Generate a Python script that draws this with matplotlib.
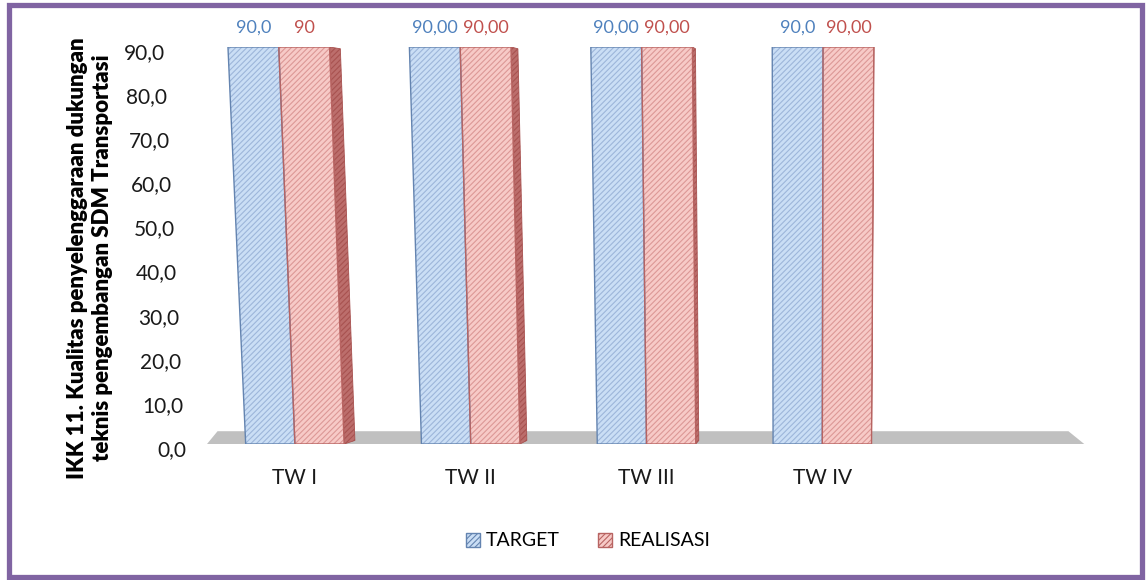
import matplotlib
matplotlib.use("Agg")
import matplotlib.pyplot as plt
from matplotlib.patches import Polygon, Rectangle, Patch
from matplotlib.transforms import ScaledTranslation

# ---------------- data ----------------
categories = ["TW I", "TW II", "TW III", "TW IV"]
target = [90.0, 90.0, 90.0, 90.0]
realisasi = [90.0, 90.0, 90.0, 90.0]
target_labels = ["90,0", "90,00", "90,00", "90,0"]
realisasi_labels = ["90", "90,00", "90,00", "90,00"]
yticks = [0, 10, 20, 30, 40, 50, 60, 70, 80, 90]
ytick_labels = ["0,0", "10,0", "20,0", "30,0", "40,0", "50,0", "60,0", "70,0", "80,0", "90,0"]
series_names = ["TARGET", "REALISASI"]
ylabel = "IKK 11. Kualitas penyelenggaraan dukungan\nteknis pengembangan SDM Transportasi"

# ---------------- style ----------------
plt.rcParams["font.family"] = ["Lato", "DejaVu Sans"]
plt.rcParams["hatch.linewidth"] = 0.8
BLUE_FILL = "#cadef5"
BLUE_HATCH = "#9db6da"
BLUE_EDGE = "#6484b0"
RED_FILL = "#f7cac7"
RED_HATCH = "#dc9896"
RED_EDGE = "#b86462"
RED_SIDE = "#bc6e6c"
BLUE_TXT = "#4f81bd"
RED_TXT = "#c0504d"
HATCH = "//////"

W, H = 1147, 580
fig = plt.figure(figsize=(W / 100, H / 100), dpi=100)
ax = fig.add_axes([207 / W, (H - 444) / H, 879 / W, 397 / H])
ax.set_xlim(-0.5, 4.5)
ax.set_ylim(0, 90)
for s in ax.spines.values():
    s.set_visible(False)

YMAX = 90.0
VP = 2.87          # perspective vanishing x (data units)
PERSP = 0.032      # widening at top
BW = 0.28          # bar width (data units)
SIDE = 0.022       # side-face depth factor


def px(x, y):
    """perspective x-position at height y"""
    f = 1 + PERSP * y / YMAX
    return VP + (x - VP) * f


def bar_poly(x0, x1, h):
    return [(px(x0, 0), 0), (px(x1, 0), 0), (px(x1, h), h), (px(x0, h), h)]


# floor
floor = Polygon([(-0.5, 0), (4.49, 0), (4.40, 2.9), (-0.44, 2.9)],
                closed=True, facecolor="#c0c0c0", edgecolor="none", zorder=1)
ax.add_patch(floor)

for i, (t, r) in enumerate(zip(target, realisasi)):
    # target bar
    pts = bar_poly(i - BW, i, t)
    ax.add_patch(Polygon(pts, closed=True, facecolor=BLUE_FILL, edgecolor=BLUE_HATCH,
                         hatch=HATCH, linewidth=0, zorder=3))
    ax.add_patch(Polygon(pts, closed=True, facecolor="none", edgecolor=BLUE_EDGE,
                         linewidth=1.0, zorder=4))
    # realisasi side face
    depth = SIDE * max(VP + 0.2 - (i + BW), 0.0)
    side = [(px(i + BW, 0), 0), (px(i + BW, 0) + depth, 0.8),
            (px(i + BW, r) + depth, r - 0.4), (px(i + BW, r), r)]
    ax.add_patch(Polygon(side, closed=True, facecolor=RED_SIDE, edgecolor="#a85250",
                         hatch=HATCH, linewidth=0.6, zorder=2.5))
    # realisasi bar
    pts = bar_poly(i, i + BW, r)
    ax.add_patch(Polygon(pts, closed=True, facecolor=RED_FILL, edgecolor=RED_HATCH,
                         hatch=HATCH, linewidth=0, zorder=3))
    ax.add_patch(Polygon(pts, closed=True, facecolor="none", edgecolor=RED_EDGE,
                         linewidth=1.0, zorder=4))
    # value labels
    xt = (px(i - BW, t) + px(i, t)) / 2
    ax.annotate(target_labels[i], (xt, t), xytext=(0, 8), textcoords="offset points",
                ha="center", va="bottom", color=BLUE_TXT, fontsize=13, annotation_clip=False)
    xr = (px(i, r) + px(i + BW, r)) / 2
    ax.annotate(realisasi_labels[i], (xr, r), xytext=(0, 8), textcoords="offset points",
                ha="center", va="bottom", color=RED_TXT, fontsize=13, annotation_clip=False)

# axes ticks
ax.set_xticks(range(len(categories)))
ax.set_xticklabels(categories, fontsize=15, color="#1a1a1a")
ax.set_yticks(yticks)
ax.set_yticklabels(ytick_labels, fontsize=15, color="#1a1a1a")
ax.tick_params(axis="x", length=0, pad=17)
ax.tick_params(axis="y", length=0, pad=15)
# perspective shift of y tick labels (top labels lean left)
for lbl, v in zip(ax.get_yticklabels(), yticks):
    lbl.set_transform(lbl.get_transform() +
                      ScaledTranslation(-0.21 * v / YMAX, -0.04, fig.dpi_scale_trans))

# y label
fig.text(90 / W, 1 - 258 / H, ylabel, rotation=90, ha="center", va="center",
         multialignment="center", fontsize=16, fontweight="heavy", color="#000000",
         linespacing=1.22)

# legend
handles = [Patch(facecolor=BLUE_FILL, edgecolor=BLUE_EDGE, hatch=HATCH, linewidth=1.0),
           Patch(facecolor=RED_FILL, edgecolor=RED_EDGE, hatch=HATCH, linewidth=1.0)]
fig.legend(handles, series_names, loc="center", bbox_to_anchor=(588 / W, 1 - 541 / H),
           ncol=2, frameon=False, fontsize=14, handlelength=0.7, handleheight=0.7,
           handletextpad=0.3, columnspacing=2.0)

# border
fig.patches.append(Rectangle((8.5 / W, 3.5 / H), (1142 - 8.5) / W, (575 - 3.5) / H,
                             transform=fig.transFigure, facecolor="none",
                             edgecolor="#8064a2", linewidth=3.8, zorder=10))

fig.savefig("out.png", dpi=100)
